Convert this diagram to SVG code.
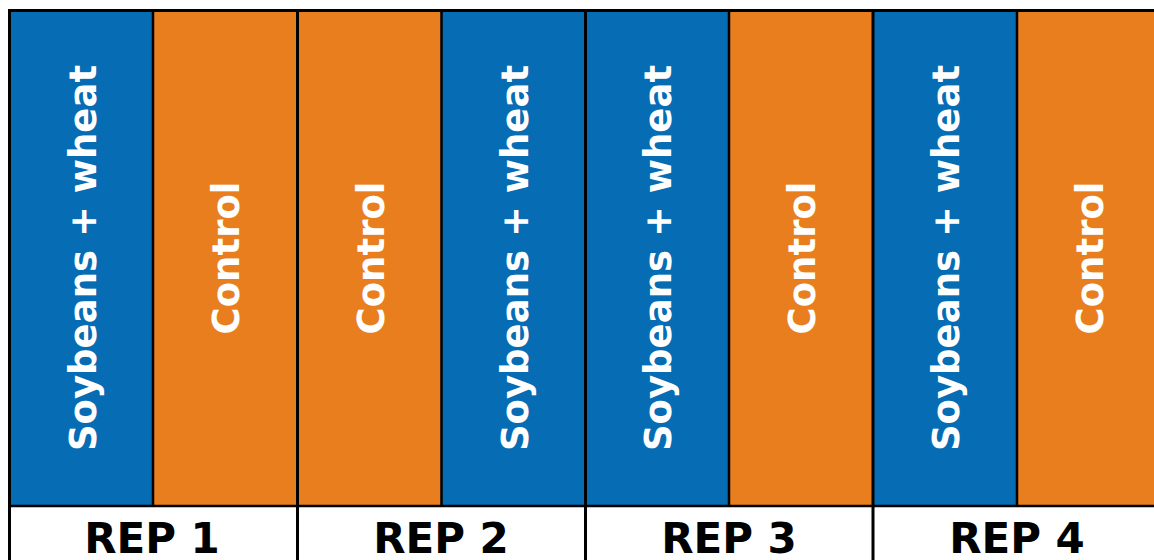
<svg xmlns="http://www.w3.org/2000/svg" width="1154" height="560" viewBox="0 0 1154 560">
<style>
.soy{fill:#066cb4}
.ctl{fill:#e87e1e}
.lbl{font-family:"DejaVu Sans","Verdana",sans-serif;font-weight:bold;font-size:37px;fill:#ffffff;text-anchor:middle}
.rep{font-family:"DejaVu Sans","Verdana",sans-serif;font-weight:bold;font-size:42px;fill:#000000;text-anchor:middle}
.thin{stroke:#000;stroke-width:2.5;fill:none}
.thick{stroke:#000;stroke-width:3;fill:none}
</style>
<rect x="0" y="0" width="1154" height="560" fill="#ffffff"/>
<g id="plot1"><rect class="soy" x="10" y="10" width="143" height="496"/><text class="lbl" transform="translate(96,258) rotate(-90)">Soybeans + wheat</text></g>
<g id="plot2"><rect class="ctl" x="153" y="10" width="144.5" height="496"/><text class="lbl" transform="translate(239,258) rotate(-90)">Control</text></g>
<g id="plot3"><rect class="ctl" x="297.5" y="10" width="144" height="496"/><text class="lbl" transform="translate(383.5,258) rotate(-90)">Control</text></g>
<g id="plot4"><rect class="soy" x="441.5" y="10" width="144" height="496"/><text class="lbl" transform="translate(527.5,258) rotate(-90)">Soybeans + wheat</text></g>
<g id="plot5"><rect class="soy" x="585.5" y="10" width="143.5" height="496"/><text class="lbl" transform="translate(671,258) rotate(-90)">Soybeans + wheat</text></g>
<g id="plot6"><rect class="ctl" x="729" y="10" width="144" height="496"/><text class="lbl" transform="translate(815,258) rotate(-90)">Control</text></g>
<g id="plot7"><rect class="soy" x="873" y="10" width="144" height="496"/><text class="lbl" transform="translate(959,258) rotate(-90)">Soybeans + wheat</text></g>
<g id="plot8"><rect class="ctl" x="1017" y="10" width="144" height="496"/><text class="lbl" transform="translate(1103,258) rotate(-90)">Control</text></g>
<g id="rep1"><text class="rep" x="152" y="553">REP 1</text></g>
<g id="rep2"><text class="rep" x="441" y="553">REP 2</text></g>
<g id="rep3"><text class="rep" x="729" y="553">REP 3</text></g>
<g id="rep4"><text class="rep" x="1017" y="553">REP 4</text></g>
<g id="lines">
<line class="thick" x1="8" y1="10.5" x2="1154" y2="10.5"/>
<line class="thick" x1="9.5" y1="9" x2="9.5" y2="560"/>
<line class="thin" x1="8" y1="506" x2="1154" y2="506"/>
<line class="thin" x1="153" y1="10" x2="153" y2="506"/>
<line class="thin" x1="441.5" y1="10" x2="441.5" y2="506"/>
<line class="thin" x1="729" y1="10" x2="729" y2="506"/>
<line class="thin" x1="1017" y1="10" x2="1017" y2="506"/>
<line class="thick" x1="297.5" y1="10" x2="297.5" y2="560"/>
<line class="thick" x1="585.5" y1="10" x2="585.5" y2="560"/>
<line class="thick" x1="873" y1="10" x2="873" y2="560"/>
</g>
</svg>
